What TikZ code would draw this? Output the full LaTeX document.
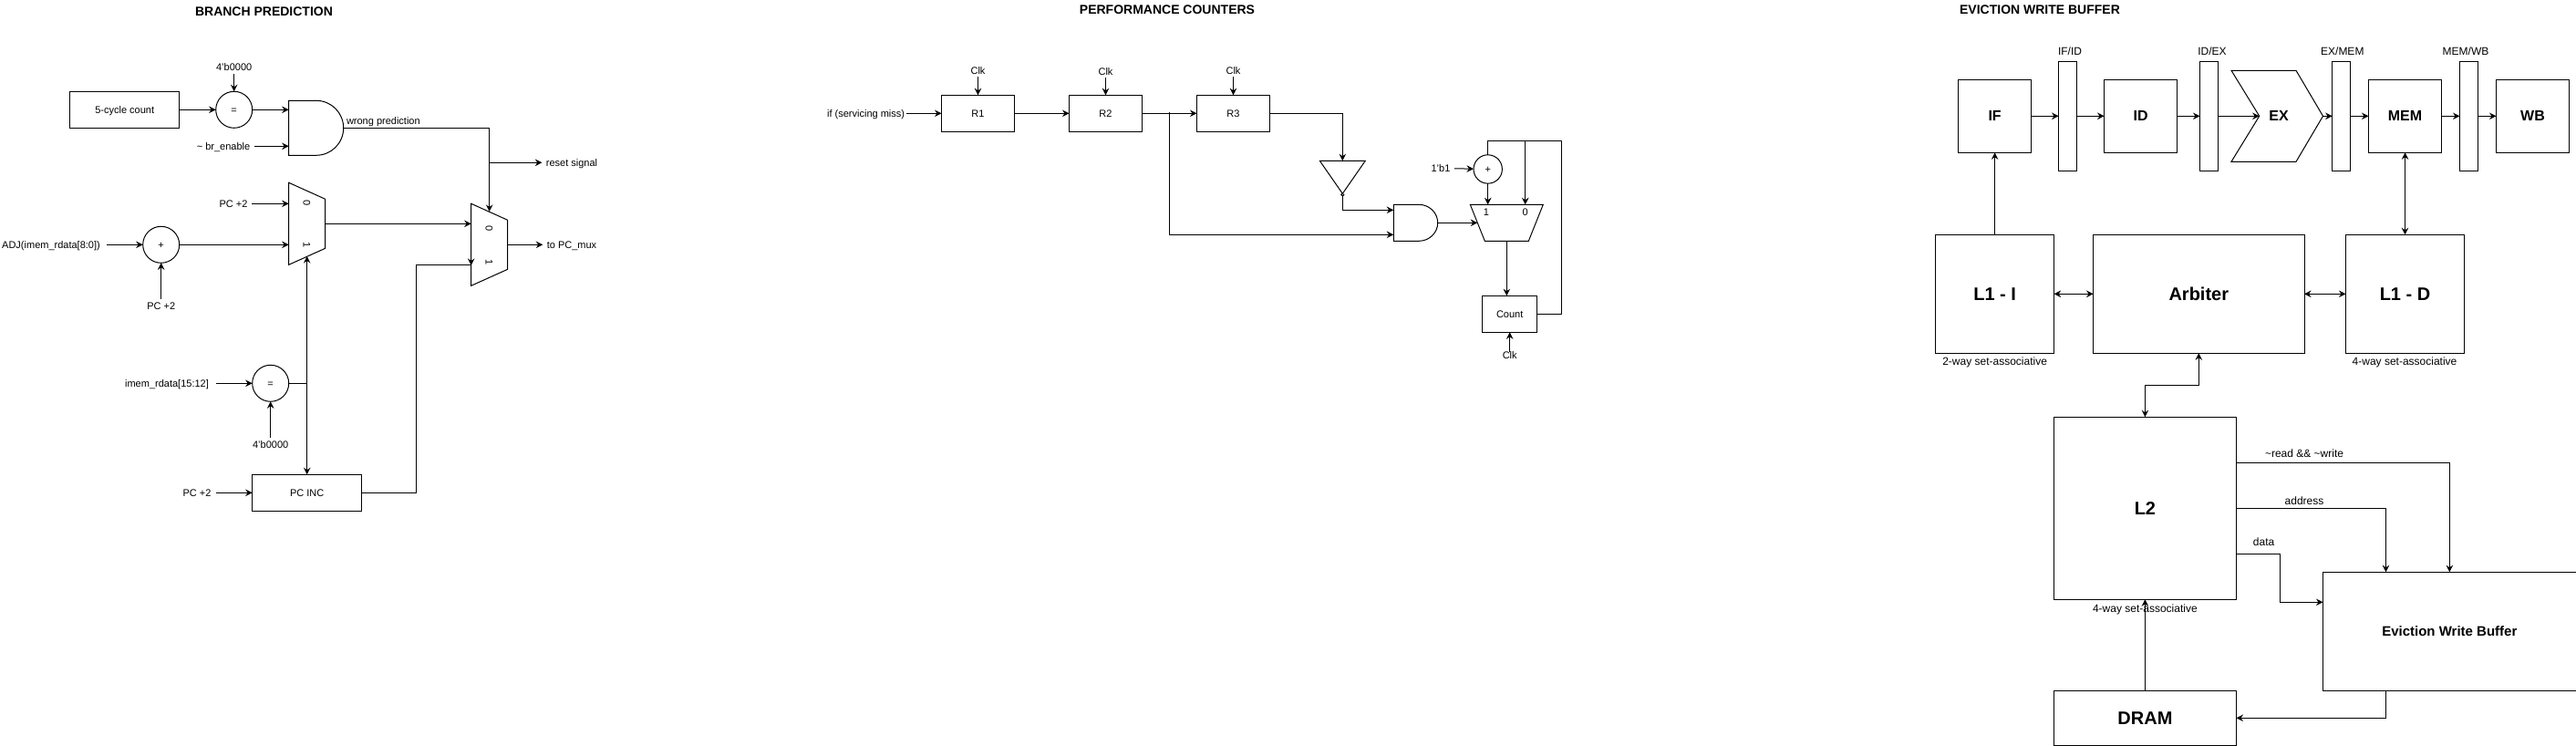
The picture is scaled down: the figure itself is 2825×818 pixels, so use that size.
\documentclass[tikz,border=0pt]{standalone}
\usepackage{fontspec}
\setmainfont{Liberation Sans}
\usetikzlibrary{arrows.meta}
\tikzset{
  txt/.style={font=\fontsize{#1}{#1}\selectfont, inner ysep=0pt, inner xsep=4pt,
    text height=.72*#1 pt, text depth=.0*#1 pt},
  txt/.default=11,
  ttl/.style={font=\fontsize{14}{14}\selectfont\bfseries, inner sep=0pt},
  hdr/.style={font=\fontsize{#1}{#1}\selectfont\bfseries, align=center},
  box/.style 2 args={draw, inner sep=0pt, outer sep=0pt, minimum width=#1pt, minimum height=#2pt},
  gatebox/.style 2 args={inner sep=0pt, outer sep=0pt, minimum width=#1pt, minimum height=#2pt},
  rnd/.style={draw, circle, inner sep=0pt, outer sep=0pt, minimum size=#1pt},
  conn/.style={-{Stealth[length=7.5pt,width=7.5pt]}},
  biconn/.style={{Stealth[length=7.5pt,width=7.5pt]}-{Stealth[length=7.5pt,width=7.5pt]}},
}
\begin{document}
\begin{tikzpicture}[x=1pt, y=-1pt, line width=1pt]
  \useasboundingbox (0,0) rectangle (2825,818);
  \begin{scope}
    \node[ttl] (brtitle) at (289.5,13) {BRANCH PREDICTION};
    \node[box={120}{40}, txt] (count5) at (136.7,120.3) {5-cycle count};
    \node[rnd=40, txt] (cmp1) at (256.7,120.3) {=};
    \node[txt] (zero1) at (256.7,74) {4'b0000};
    \node[gatebox={60}{60}] (and1) at (346.7,140.3) {};
    \draw (and1.north west) -- (346.7,110.3)
      .. controls (363.3,110.3) and (376.7,123.7) .. (376.7,140.3)
      .. controls (376.7,157) and (363.3,170.3) .. (346.7,170.3)
      -- (and1.south west) -- cycle;
    \node[txt] (brenable) at (245,160.3) {\textasciitilde\ br\_enable};
    \node[txt, anchor=west] (wrongp) at (375.5,133) {wrong prediction};
    \node[txt] (resetlbl) at (627,178.3) {reset signal};
    \node[txt] (pc1) at (256,223.3) {PC +2};
    \node[gatebox={40}{90}] (mux1) at (336.7,245.3) {};
    \draw (316.7,200.3) -- (356.7,218.3) -- (356.7,272.3) -- (316.7,290.3) -- cycle;
    \node[txt, rotate=-90] (mux1a) at (336.7,222.3) {0};
    \node[txt, rotate=-90] (mux1b) at (336.7,268.3) {1};
    \node[gatebox={40}{90}] (mux2) at (536.7,268.3) {};
    \draw (516.7,223.3) -- (556.7,241.3) -- (556.7,295.3) -- (516.7,313.3) -- cycle;
    \node[txt, rotate=-90] (mux2a) at (536.7,250.3) {0};
    \node[txt, rotate=-90] (mux2b) at (536.7,287.3) {1};
    \node[txt] (tomux) at (627,268.3) {to PC\_mux};
    \node[txt] (adj) at (56,268.3) {ADJ(imem\_rdata[8:0])};
    \node[rnd=40, txt] (add1) at (176.7,268.3) {+};
    \node[txt] (pc2) at (176.7,336) {PC +2};
    \node[txt] (imem) at (183,420.3) {imem\_rdata[15:12]};
    \node[rnd=40, txt] (cmp2) at (296.7,420.3) {=};
    \node[txt] (zero2) at (296.7,488) {4'b0000};
    \node[txt] (pc3) at (216,540.3) {PC +2};
    \node[box={120}{40}, txt] (pcinc) at (336.7,540.3) {PC INC};
    \coordinate (mux2top) at (536.7,232);
    \coordinate (resetfork) at (536.7,178.3);
    \coordinate (mux1bot) at (336.7,281);
    \coordinate (pcturn) at (456.7,290.3);
    \coordinate (mux2low) at (516.7,290.3);
    \coordinate (mux2above) at (516.7,282);
    \coordinate (mux2tip) at (516.7,291);
    \draw[conn] (count5) -- (cmp1);
    \draw[conn, shorten <=3pt] (zero1) -- (cmp1);
    \draw[conn] (cmp1) -- (cmp1 -| and1.west);
    \draw[conn] (brenable.east) -- (brenable.east -| and1.west);
    \draw[conn] (and1.east) -| (mux2top);
    \draw[conn] (resetfork) -- (resetlbl.west);
    \draw[conn] (pc1.east) -- (pc1.east -| mux1.west);
    \draw[conn, shorten <=3pt] (adj.east) -- (add1);
    \draw[conn] (add1) -- (add1 -| mux1.west);
    \draw[conn, shorten <=4pt] (pc2) -- (add1);
    \draw[conn] (mux1.east) -- (mux1.east -| mux2.west);
    \draw[conn] (mux2.east) -- (tomux.west);
    \draw[biconn] (mux1bot) -- (pcinc.north);
    \draw[conn, shorten <=4pt] (imem.east) -- (cmp2);
    \draw[conn, shorten <=4pt] (zero2) -- (cmp2);
    \draw (cmp2) -- (cmp2 -| pcinc.north);
    \draw[conn, shorten <=1pt] (pc3.east) -- (pcinc);
    \draw (pcinc.east) -| (pcturn) -- (mux2low);
    \draw[conn] (mux2above) -- (mux2tip);
  \end{scope}
  \begin{scope}
    \node[ttl] (pftitle) at (1280,11) {PERFORMANCE COUNTERS};
    \node[txt] (ifmiss) at (949.6,124.3) {if (servicing miss)};
    \node[box={80}{40}, txt] (r1) at (1072.5,124.3) {R1};
    \node[box={80}{40}, txt] (r2) at (1212.5,124.3) {R2};
    \node[box={80}{40}, txt] (r3) at (1352.5,124.3) {R3};
    \node[txt] (clk1) at (1072.5,78) {Clk};
    \node[txt] (clk2) at (1212.5,79) {Clk};
    \node[txt] (clk3) at (1352.5,78) {Clk};
    \node[gatebox={50}{36}] (tri) at (1472.3,194.3) {};
    \draw (tri.north west) -- (tri.north east) -- (tri.south) -- cycle;
    \node[rnd=3] (bub) at (1472.3,213.6) {};
    \node[gatebox={48}{40}] (and2) at (1552.3,244.3) {};
    \draw (and2.north west) -- (1556,224.3)
      .. controls (1567.4,224.3) and (1576.7,233.3) .. (1576.7,244.3)
      .. controls (1576.7,255.3) and (1567.4,264.3) .. (1556,264.3)
      -- (and2.south west) -- cycle;
    \node[gatebox={80}{40}] (trap) at (1652.3,244.3) {};
    \draw (1612.3,224.3) -- (1692.3,224.3) -- (1676.3,264.3) -- (1628.3,264.3) -- cycle;
    \node[txt] (trap1) at (1630,232.3) {1};
    \node[txt] (trap0) at (1672.7,232.3) {0};
    \node[rnd=31.4, txt] (add2) at (1631.7,185.5) {+};
    \node[txt] (oneb) at (1580,184.5) {1'b1};
    \node[box={60}{40}, txt] (count) at (1655.7,344.3) {Count};
    \node[txt] (clk4) at (1655.7,390) {Clk};
    \coordinate (fork1) at (1282.5,123.3);
    \coordinate (and2up) at (1528.3,230.3);
    \coordinate (and2low) at (1528.3,257.3);
    \coordinate (tritop) at (1472.3,176.3);
    \coordinate (trapin) at (1620.3,244.3);
    \coordinate (loopcorner) at (1712.3,154.3);
    \coordinate (looptop) at (1631.7,154.3);
    \coordinate (looptap) at (1672.7,154.3);
    \coordinate (trap0in) at (1672.7,224.3);
    \coordinate (trap1in) at (1631.7,224.3);
    \draw[conn, shorten <=-3pt] (ifmiss.east) -- (r1);
    \draw[conn] (r1) -- (r2);
    \draw[conn] (r2) -- (r3);
    \draw[conn, shorten <=2pt] (clk1) -- (r1);
    \draw[conn, shorten <=2pt] (clk2) -- (r2);
    \draw[conn, shorten <=2pt] (clk3) -- (r3);
    \draw[conn] (fork1) |- (and2low);
    \draw[conn] (r3) -| (tritop);
    \draw[conn] (bub.south) |- (and2up);
    \draw[conn] (and2.east) -- (trapin);
    \draw[conn] (oneb) -- (add2);
    \draw[conn] (add2) -- (trap1in);
    \draw (count.east) -| (loopcorner) -- (looptop) -- (add2.north);
    \draw[conn] (looptap) -- (trap0in);
    \draw[conn] (trap.south) -- (trap.south |- count.north);
    \draw[conn] (clk4) -- (count);
  \end{scope}
  \begin{scope}
    \node[ttl] (ebtitle) at (2237,11) {EVICTION WRITE BUFFER};
    \node[box={80}{80}, hdr=16] (ifst) at (2187.6,127.3) {IF};
    \node[box={20}{120}] (ifid) at (2267.6,127.3) {};
    \node[box={80}{80}, hdr=16] (idst) at (2347.6,127.3) {ID};
    \node[box={20}{120}] (idex) at (2422.5,127.3) {};
    \draw (2447,77.3) -- (2518,77.3) -- (2547.5,127.3) -- (2518,177.3) -- (2447,177.3) -- (2477.7,127.3) -- cycle;
    \node[hdr=16] (exst) at (2499,127.3) {EX};
    \node[box={20}{120}] (exmem) at (2567.7,127.3) {};
    \node[box={80}{80}, hdr=16] (memst) at (2637.5,127.3) {MEM};
    \node[box={20}{120}] (memwb) at (2707.5,127.3) {};
    \node[box={80}{80}, hdr=16] (wbst) at (2777.5,127.3) {WB};
    \node[txt=12] (ifidl) at (2270,55.7) {IF/ID};
    \node[txt=12] (idexl) at (2426,55.7) {ID/EX};
    \node[txt=12] (exmeml) at (2568.8,55.7) {EX/MEM};
    \node[txt=12] (memwbl) at (2704,55.7) {MEM/WB};
    \node[box={130}{130}, hdr=20] (l1i) at (2187.6,322.3) {L1 - I};
    \node[box={231.4}{130}, hdr=20] (arb) at (2411.3,322.3) {Arbiter};
    \node[box={130}{130}, hdr=20] (l1d) at (2637.5,322.3) {L1 - D};
    \node[txt=12] (way2) at (2187.6,396) {2-way set-associative};
    \node[txt=12] (way4a) at (2637,396) {4-way set-associative};
    \node[box={200}{200}, hdr=20] (l2) at (2352.4,557.3) {L2};
    \node[txt=12] (way4b) at (2352.4,666.7) {4-way set-associative};
    \node[box={200}{60}, hdr=20] (dram) at (2352.4,787.3) {DRAM};
    \node[box={277.6}{130}, hdr=15] (ewb) at (2686.3,692.3) {Eviction Write Buffer};
    \node[txt=12] (rdwr) at (2527,496.7) {\textasciitilde read \&\& \textasciitilde write};
    \node[txt=12] (addr) at (2527,549) {address};
    \node[txt=12] (data) at (2482.6,594) {data};
    \coordinate (exin) at (2477.7,127.3);
    \coordinate (exout) at (2547.5,127.3);
    \coordinate (arbmid) at (2352.4,422.3);
    \coordinate (l2rd) at (2452.4,507.3);
    \coordinate (l2dat) at (2452.4,607.3);
    \coordinate (ewbadr) at (2616.5,627.3);
    \coordinate (datmid) at (2500.5,640);
    \coordinate (ewbdat) at (2547.5,660.3);
    \coordinate (ewbout) at (2616.5,757.3);
    \draw[conn] (ifst) -- (ifid);
    \draw[conn] (ifid) -- (idst);
    \draw[conn] (idst) -- (idex);
    \draw[conn] (idex) -- (exin);
    \draw[conn] (exout) -- (exmem);
    \draw[conn] (exmem) -- (memst);
    \draw[conn] (memst) -- (memwb);
    \draw[conn] (memwb) -- (wbst);
    \draw[conn] (l1i.north) -- (ifst.south);
    \draw[biconn] (memst.south) -- (l1d.north);
    \draw[biconn] (l1i) -- (arb);
    \draw[biconn] (arb) -- (l1d);
    \draw[biconn] (arb.south) |- (arbmid) -- (l2.north);
    \draw[conn] (l2rd) -| (ewb.north);
    \draw[conn] (l2.east) -| (ewbadr);
    \draw[conn] (l2dat) -| (datmid) |- (ewbdat);
    \draw[conn] (dram.north) -- (l2.south);
    \draw[conn] (ewbout) |- (dram.east);
  \end{scope}
\end{tikzpicture}
\end{document}
